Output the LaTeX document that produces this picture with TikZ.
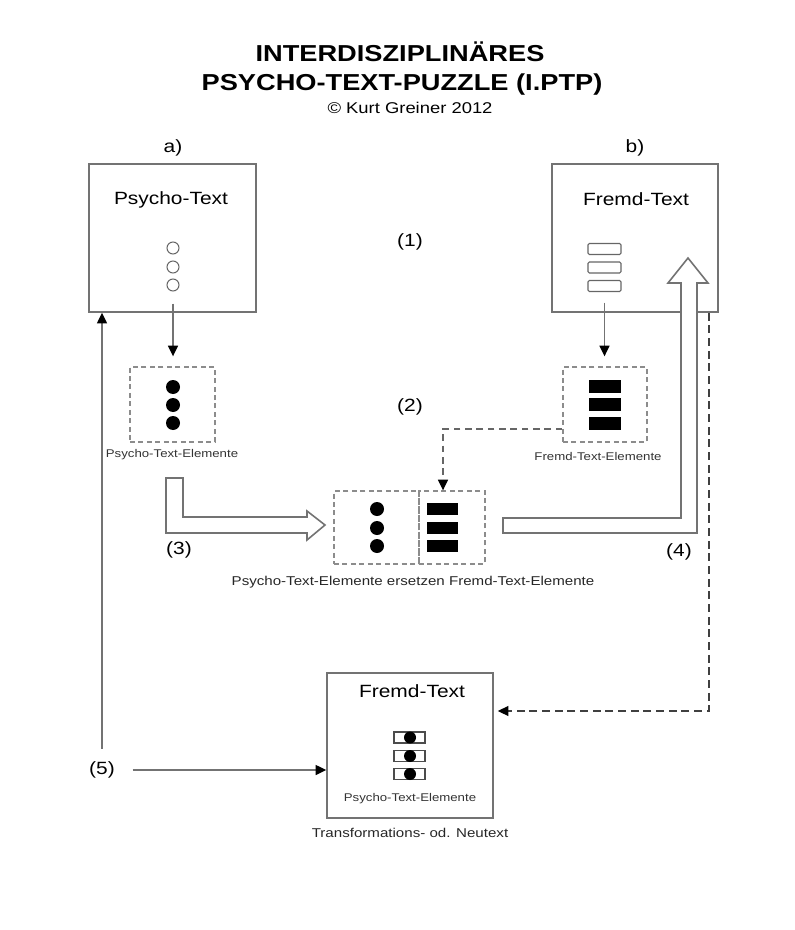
\documentclass[tikz,border=0pt]{standalone}
\usepackage{fontspec}
\setmainfont{Liberation Sans}[FakeStretch=1.18]
\usetikzlibrary{arrows.meta}

\begin{document}
\begin{tikzpicture}[x=0.75pt, y=-0.75pt, semithick]
  \tikzstyle{textbox} = [rectangle, draw=black!55, line width=1.2pt, inner sep=0pt]
  \tikzstyle{elembox} = [rectangle, draw=black!45, line width=1pt,
    dash pattern=on 3.75pt off 2.6pt, inner sep=0pt]
  \tikzstyle{opendot} = [circle, draw=black!60, line width=0.8pt, minimum size=9pt, inner sep=0pt]
  \tikzstyle{fulldot} = [circle, fill=black, minimum size=10.5pt, inner sep=0pt]
  \tikzstyle{openbar} = [rectangle, rounded corners=1pt, draw=black!60, line width=0.8pt,
    minimum width=24.75pt, minimum height=8.25pt, inner sep=0pt]
  \tikzstyle{fullbar} = [rectangle, fill=black, minimum width=24pt, minimum height=9.75pt, inner sep=0pt]
  \tikzstyle{headline} = [font=\fontsize{17.3}{20}\selectfont\bfseries]
  \tikzstyle{boxlabel} = [font=\fontsize{13.3}{15}\selectfont]
  \tikzstyle{steplabel} = [font=\fontsize{13.3}{15}\selectfont]
  \tikzstyle{elemlabel} = [font=\fontsize{8.4}{10}\selectfont, text=black!80]
  \tikzstyle{capt} = [font=\fontsize{9.6}{11}\selectfont, text=black!85]
  \tikzstyle{line} = [draw=black!55, line width=1.2pt, -{Triangle[length=8pt,width=7.5pt,color=black]}]
  \tikzstyle{dashline} = [line, draw=black!60, line width=1pt, dash pattern=on 5pt off 3.5pt]
  \tikzstyle{block} = [draw=black!55, line width=1.2pt, fill=white, line join=miter]

  \useasboundingbox (0,0) rectangle (794,930);

  % Title
  \node [headline] (title1) at (400,52) {INTERDISZIPLINÄRES};
  \node [headline] (title2) at (402,85) {PSYCHO-TEXT-PUZZLE (I.PTP)};
  \node [font=\fontsize{11.7}{14}\selectfont] (author) at (410,108) {© Kurt Greiner 2012};

  % Place boxes
  \node [textbox, minimum width=125.25pt, minimum height=111pt] (psy) at (172.5,238) {};
  \node [textbox, minimum width=124.5pt, minimum height=111pt] (fremd) at (635,238) {};
  \node [elembox, minimum width=63.75pt, minimum height=56.25pt] (psyel) at (172.5,404.5) {};
  \node [elembox, minimum width=63pt, minimum height=56.25pt] (fremdel) at (605,404.5) {};
  \node [elembox, minimum width=63.75pt, minimum height=54.75pt] (mixl) at (376.5,527.5) {};
  \node [elembox, minimum width=49.5pt, minimum height=54.75pt] (mixr) at (452,527.5) {};
  \node [textbox, minimum width=124.5pt, minimum height=108.75pt] (neu) at (410,745.5) {};

  % Box texts
  \node [steplabel] (a) at (173,148) {a)};
  \node [steplabel] (b) at (635,148) {b)};
  \node [boxlabel] (psyname) at (171,200) {Psycho-Text};
  \node [boxlabel] (fremdname) at (636,199) {Fremd-Text};
  \node [boxlabel] (neuname) at (412,691) {Fremd-Text};
  \node [elemlabel] (psyellabel) at (172,455) {Psycho-Text-Elemente};
  \node [elemlabel] (fremdellabel) at (598,456) {Fremd-Text-Elemente};
  \node [elemlabel] (neuellabel) at (410,799) {Psycho-Text-Elemente};
  \node [capt] (mixlabel) at (413,582) {Psycho-Text-Elemente ersetzen Fremd-Text-Elemente};
  \node [capt] (neulabel) at (410,833) {Transformations- od. Neutext};

  % Elements
  \foreach \y [count=\i] in {248,267,285}
    \node [opendot] (pc\i) at (173,\y) {};
  \foreach \y [count=\i] in {387,405,423}
    \node [fulldot] (pd\i) at (173,\y) {};
  \foreach \y [count=\i] in {249,267.5,286}
    \node [openbar] (fb\i) at (604.5,\y) {};
  \foreach \y [count=\i] in {386.5,404.5,423}
    \node [fullbar] (fd\i) at (605,\y) {};
  \foreach \y [count=\i] in {509,528,546} {
    \node [fulldot] (md\i) at (377,\y) {};
    \node [fullbar, minimum width=23.25pt, minimum height=9pt] (mb\i) at (442.5,\y) {};
  }
  \foreach \y [count=\i] in {737.5,756,774} {
    \node [openbar, rounded corners=0pt, draw=black!70, minimum width=23.25pt] (nb\i) at (409.5,\y) {};
    \node [fulldot, minimum size=9pt] (nd\i) at (410,\y) {};
  }

  % Step numbers
  \node [steplabel] (one) at (410,242) {(1)};
  \node [steplabel] (two) at (410,407) {(2)};
  \node [steplabel] (three) at (179,550) {(3)};
  \node [steplabel] (four) at (679,552) {(4)};
  \node [steplabel] (five) at (102,770) {(5)};

  % Block arrows
  \path [block] (166,478) -- (183,478) -- (183,517) -- (307,517) -- (307,511)
    -- (325,525) -- (307,540) -- (307,533) -- (166,533) -- cycle;
  \path [block] (503,518) -- (681,518) -- (681,283) -- (668,283) -- (688,258)
    -- (708,283) -- (697,283) -- (697,533) -- (503,533) -- cycle;

  % Draw edges
  \path [line, shorten <=9pt, shorten >=7.5pt] (pc3) -- (pc3 |- psyel.north);
  \path [line, shorten <=8pt, shorten >=7.5pt] (fb3) -- (fb3 |- fremdel.north);

  \coordinate (drop) at (443,429);
  \path [dashline] (fremdel.west |- drop) -- (drop) -- (drop |- mixr.north);

  \coordinate (bend) at (709,711);
  \path [dashline, draw=black!75, dash pattern=on 6pt off 3.5pt] (fremd.south -| bend) -- (bend) -- ([xshift=3pt]bend -| neu.east);

  \path [line, shorten <=6pt] (five) -- (five |- psy.south);
  \path [line, shorten <=9.75pt] (five) -- (five -| neu.west);

\end{tikzpicture}
\end{document}
